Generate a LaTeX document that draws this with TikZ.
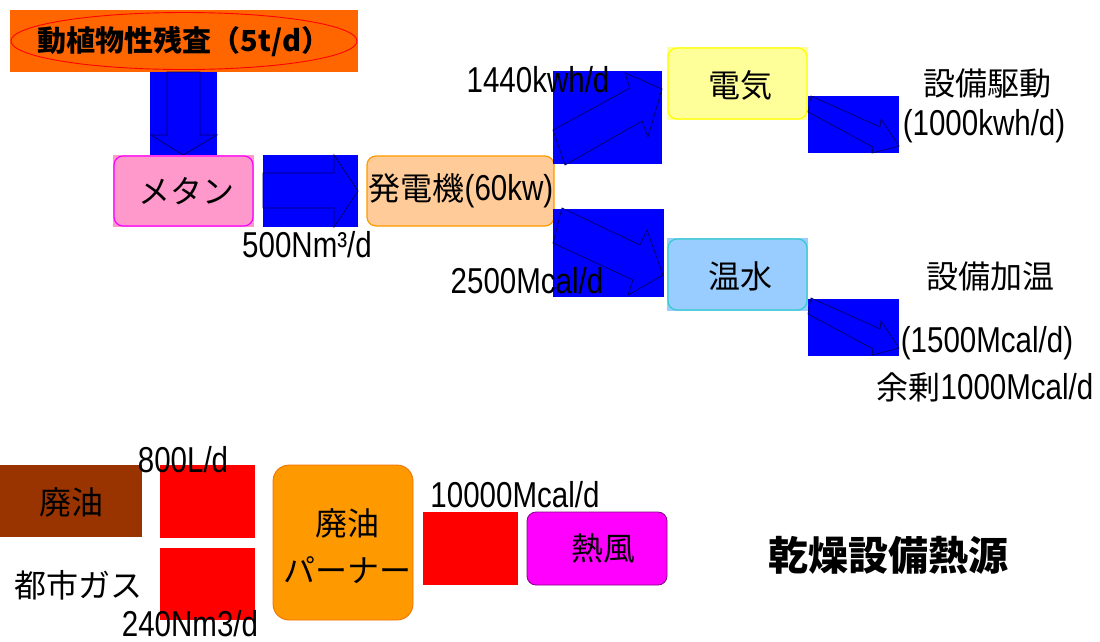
\documentclass[tikz,border=0pt]{standalone}
\usepackage{fontspec}
\newfontfamily\cjk{Noto Sans CJK JP}
\newfontfamily\lat[FakeStretch=0.82]{Liberation Sans}
\usetikzlibrary{shapes.geometric}
\definecolor{bblue}{HTML}{0000FF}
\definecolor{arrline}{HTML}{000066}
\definecolor{topor}{HTML}{FF6600}
\definecolor{pinkf}{HTML}{FF99CC}
\definecolor{genf}{HTML}{FFCC99}
\definecolor{gend}{HTML}{FF9900}
\definecolor{yelf}{HTML}{FFFF99}
\definecolor{yeld}{HTML}{FFFF00}
\definecolor{bluf}{HTML}{99CCFF}
\definecolor{blud}{HTML}{33CCCC}
\definecolor{brownf}{HTML}{993300}
\definecolor{burnf}{HTML}{FF9900}
\definecolor{burnd}{HTML}{F07000}
\definecolor{magf}{HTML}{FF00FF}
\definecolor{magd}{HTML}{800080}
\tikzset{
  blk/.style={fill=bblue,draw=none},
  arr/.style={draw=arrline,line width=0.7pt,fill=bblue},
  rbox/.style={rounded corners=9pt,line width=1.2pt},
  jt/.style={font=\cjk\fontsize{32}{34}\selectfont,text=black,inner sep=0pt},
  lt/.style={font=\lat\fontsize{36}{38}\selectfont,text=black,inner sep=0pt},
}
\begin{document}
\begin{tikzpicture}[x=1pt,y=-1pt]
\useasboundingbox (0,0) rectangle (1100,641);
% top source
\fill[topor] (10,10) rectangle (358,72);
\node[ellipse,draw=red,line width=0.9pt,minimum width=346pt,minimum height=57pt,inner sep=0pt] (src) at (184,41) {};
\node[inner sep=0pt,font=\cjk\bfseries\fontsize{29}{31}\selectfont] (srct) at (184,42) {動植物性残査（5t/d）};
% down arrow
\fill[blk] (150,72) rectangle (217,155);
\draw[arr] (167,72) -- (200,72) -- (200,135) -- (217,135) -- (183,155) -- (151,135) -- (167,135) -- cycle;
% methane
\fill[pinkf] (113,155) rectangle (254,227);
\draw[rbox,draw=magf,fill=pinkf] (114,156) rectangle (253,226);
\node[jt] (meth) at (186,191) {メタン};
% right arrow
\fill[blk] (263,155) rectangle (358,227);
\draw[arr] (263,173) -- (334,173) -- (334,155) -- (358,191) -- (334,227) -- (334,208) -- (263,208) -- cycle;
\node[lt] (l500) at (307,245) {500Nm³/d};
% generator
\draw[rbox,draw=gend,fill=genf] (367,156) rectangle (554,226);
\node[inner sep=0pt] (gen) at (461,191) {\cjk\fontsize{32}{34}\selectfont 発電機\lat\fontsize{36}{38}\selectfont(60kw)};
% diagonal arrows
\fill[blk] (553,71) rectangle (662,164);
\draw[arr] (553,130) -- (630,88) -- (625,73) -- (662,89) -- (648,137) -- (642,121) -- (565,165) -- cycle;
\fill[blk] (553,209) rectangle (664,297);
\draw[arr] (562,208) -- (640,245) -- (647,230) -- (663,275) -- (628,295) -- (633,280) -- (553,243) -- cycle;
\node[lt] (l1440) at (538,80) {1440kwh/d};
\node[lt] (l2500) at (527,281) {2500Mcal/d};
% electricity & hot water
\fill[yelf] (667,47) rectangle (808,120);
\draw[rbox,draw=yeld,fill=yelf] (668,48) rectangle (807,119);
\node[jt] (elec) at (740,85) {電気};
\fill[bluf] (667,238) rectangle (808,311);
\draw[rbox,draw=blud,fill=bluf] (668,239) rectangle (807,310);
\node[jt] (hotw) at (740,276) {温水};
% right arrows
\fill[blk] (808,96) rectangle (899,153);
\draw[arr] (811,96) -- (880,127) -- (881,119) -- (899,146) -- (872,153) -- (873,147) -- (808,112) -- cycle;
\fill[blk] (808,299) rectangle (899,356);
\draw[arr] (811,298) -- (880,329) -- (881,321) -- (899,348) -- (872,355) -- (873,349) -- (808,314) -- cycle;
\node[jt] (drive) at (987,83) {設備駆動};
\node[lt] (l1000) at (984,126) {(1000kwh/d)};
\node[jt] (heat) at (990,276) {設備加温};
\node[lt] (l1500) at (987,343) {(1500Mcal/d)};
\node[inner sep=0pt] (surp) at (985,387) {\cjk\fontsize{32}{34}\selectfont 余剰\lat\fontsize{36}{38}\selectfont 1000Mcal/d};
% bottom
\fill[brownf] (0,465) rectangle (142,537);
\node[jt] (oil) at (71,502) {廃油};
\node[jt] (gas) at (78,585) {都市ガス};
\fill[red] (160,465) rectangle (255,538);
\fill[red] (160,548) rectangle (255,620);
\node[lt] (l800) at (183,460) {800L/d};
\node[lt] (l240) at (190,624) {240Nm3/d};
\draw[rounded corners=16pt,draw=burnd,fill=burnf,line width=0.8pt] (273,465) rectangle (413,620);
\node[jt] (burn1) at (347,523) {廃油};
\node[jt] (burn2) at (347,570) {パーナー};
\fill[red] (423,512) rectangle (518,585);
\node[lt] (l10000) at (515,495) {10000Mcal/d};
\draw[rounded corners=9pt,draw=magd,fill=magf,line width=0.8pt] (527,512) rectangle (667,585);
\node[jt] (wind) at (603,548) {熱風};
\node[inner sep=0pt,font=\cjk\bfseries\fontsize{40}{42}\selectfont] (dry) at (888,555) {乾燥設備熱源};
\end{tikzpicture}
\end{document}
